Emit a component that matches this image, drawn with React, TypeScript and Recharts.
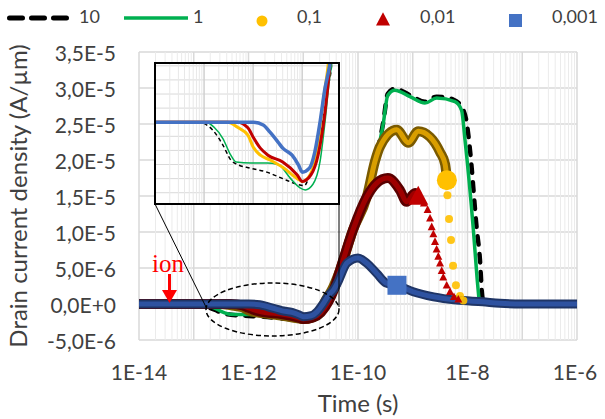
import React from 'react'
import { CartesianGrid, Line, LineChart, ReferenceDot, XAxis, YAxis } from 'recharts'

type Pt = { t: number; y: number }

// time (s) / drain current density (A/µm)
const s10: Pt[] = [
	{ t: 1e-14, y: 0 }, { t: 7.6e-14, y: 0 }, { t: 1.5e-13, y: -0.28e-6 }, { t: 2.4e-13, y: -0.8e-6 },
	{ t: 3.5e-13, y: -1.34e-6 }, { t: 4.8e-13, y: -1.5e-6 }, { t: 8.7e-13, y: -1.63e-6 }, { t: 1.9e-12, y: -1.77e-6 },
	{ t: 4e-12, y: -2.0e-6 }, { t: 7.9e-12, y: -2.2e-6 }, { t: 1.1e-11, y: -2.25e-6 }, { t: 1.4e-11, y: -1.9e-6 },
	{ t: 2e-11, y: -1.15e-6 }, { t: 2.6e-11, y: 0 }, { t: 3.3e-11, y: 1.2e-6 }, { t: 4e-11, y: 2.1e-6 },
	{ t: 4.7e-11, y: 4.7e-6 }, { t: 8.1e-11, y: 10.3e-6 }, { t: 1.45e-10, y: 14.9e-6 }, { t: 2.04e-10, y: 19.6e-6 },
	{ t: 2.9e-10, y: 25.3e-6 }, { t: 3.5e-10, y: 29.2e-6 }, { t: 4.7e-10, y: 29.9e-6 }, { t: 8.9e-10, y: 29e-6 },
	{ t: 1.67e-9, y: 28.1e-6 }, { t: 2.73e-9, y: 28.8e-6 }, { t: 5.5e-9, y: 28.4e-6 }, { t: 8.3e-9, y: 27e-6 },
	{ t: 9.7e-9, y: 25.1e-6 }, { t: 1.11e-8, y: 21.4e-6 }, { t: 1.48e-8, y: 10.3e-6 }, { t: 1.69e-8, y: 6.1e-6 },
	{ t: 1.82e-8, y: 1.9e-6 }, { t: 1.95e-8, y: 0 },
]

const s1: Pt[] = [
	{ t: 1e-14, y: 0 }, { t: 1.1e-13, y: 0 }, { t: 1.6e-13, y: -0.18e-6 }, { t: 2.4e-13, y: -0.57e-6 },
	{ t: 3.5e-13, y: -1.17e-6 }, { t: 4.5e-13, y: -1.41e-6 }, { t: 8.9e-13, y: -1.45e-6 }, { t: 1.9e-12, y: -1.45e-6 },
	{ t: 3.2e-12, y: -1.5e-6 }, { t: 5.8e-12, y: -2.0e-6 }, { t: 9e-12, y: -2.33e-6 }, { t: 1.15e-11, y: -2.4e-6 },
	{ t: 1.65e-11, y: -2.2e-6 }, { t: 2.3e-11, y: -1.4e-6 }, { t: 2.9e-11, y: 0 }, { t: 3.6e-11, y: 1.55e-6 },
	{ t: 4.1e-11, y: 2.3e-6 }, { t: 4.7e-11, y: 4.5e-6 }, { t: 8.1e-11, y: 10.1e-6 }, { t: 1.45e-10, y: 14.7e-6 },
	{ t: 2.04e-10, y: 19.4e-6 }, { t: 2.9e-10, y: 25.1e-6 }, { t: 3.5e-10, y: 29e-6 }, { t: 4.7e-10, y: 29.7e-6 },
	{ t: 8.9e-10, y: 28.8e-6 }, { t: 1.67e-9, y: 27.9e-6 }, { t: 2.73e-9, y: 28.6e-6 }, { t: 5.9e-9, y: 28.1e-6 },
	{ t: 7.8e-9, y: 26.9e-6 }, { t: 9e-9, y: 22.8e-6 }, { t: 1.28e-8, y: 10.3e-6 }, { t: 1.5e-8, y: 3.5e-6 },
	{ t: 1.65e-8, y: 0 },
]

const s01: Pt[] = [
	{ t: 1e-14, y: 0 }, { t: 3e-13, y: 0 }, { t: 4.8e-13, y: -0.18e-6 }, { t: 7.8e-13, y: -0.46e-6 },
	{ t: 1e-12, y: -0.88e-6 }, { t: 1.4e-12, y: -1.17e-6 }, { t: 2.2e-12, y: -1.34e-6 }, { t: 4e-12, y: -1.6e-6 },
	{ t: 7.9e-12, y: -2.0e-6 }, { t: 1e-11, y: -2.1e-6 }, { t: 1.4e-11, y: -1.9e-6 }, { t: 2e-11, y: -1.06e-6 },
	{ t: 2.6e-11, y: 0.6e-6 }, { t: 3.3e-11, y: 1.9e-6 }, { t: 4.7e-11, y: 4.7e-6 }, { t: 8.1e-11, y: 10.3e-6 },
	{ t: 1.45e-10, y: 14.9e-6 }, { t: 2.04e-10, y: 19.8e-6 }, { t: 2.5e-10, y: 21.8e-6 }, { t: 5.1e-10, y: 24.2e-6 },
	{ t: 8.3e-10, y: 22.4e-6 }, { t: 1.26e-9, y: 24e-6 }, { t: 2.07e-9, y: 23.2e-6 }, { t: 3.15e-9, y: 21.1e-6 },
	{ t: 3.9e-9, y: 19.4e-6 }, { t: 4.15e-9, y: 17.8e-6 },
]
const s01Tail: Pt[] = [
	{ t: 4.3e-9, y: 15.1e-6 }, { t: 4.6e-9, y: 11.8e-6 }, { t: 5e-9, y: 8.9e-6 }, { t: 5.45e-9, y: 5.3e-6 },
	{ t: 6.15e-9, y: 2.6e-6 }, { t: 7.3e-9, y: 1.1e-6 }, { t: 8.4e-9, y: 0.5e-6 },
]
const s01Big: Pt = { t: 4.2e-9, y: 17.2e-6 }

const s001: Pt[] = [
	{ t: 1e-14, y: 0 }, { t: 4.8e-13, y: 0 }, { t: 7.8e-13, y: -0.2e-6 }, { t: 1e-12, y: -0.53e-6 },
	{ t: 1.4e-12, y: -0.92e-6 }, { t: 2e-12, y: -1.17e-6 }, { t: 4e-12, y: -1.41e-6 }, { t: 7.9e-12, y: -1.87e-6 },
	{ t: 1e-11, y: -2.1e-6 }, { t: 1.5e-11, y: -1.87e-6 }, { t: 2.1e-11, y: -1.17e-6 }, { t: 2.9e-11, y: 0.35e-6 },
	{ t: 3.6e-11, y: 1.9e-6 }, { t: 4.7e-11, y: 4.7e-6 }, { t: 8.1e-11, y: 10.3e-6 }, { t: 1.45e-10, y: 14.9e-6 },
	{ t: 2.2e-10, y: 16.8e-6 }, { t: 3.5e-10, y: 17.5e-6 }, { t: 5.85e-10, y: 15.8e-6 }, { t: 7.7e-10, y: 14.2e-6 },
	{ t: 1.1e-9, y: 15.4e-6 }, { t: 1.22e-9, y: 15.1e-6 },
]
const s001Tail: Pt[] = [
	{ t: 1.6e-9, y: 14.0e-6 }, { t: 1.87e-9, y: 13.1e-6 }, { t: 2.07e-9, y: 11.9e-6 }, { t: 2.22e-9, y: 10.7e-6 },
	{ t: 2.38e-9, y: 9.7e-6 }, { t: 2.55e-9, y: 8.65e-6 }, { t: 2.73e-9, y: 7.6e-6 }, { t: 2.93e-9, y: 6.6e-6 },
	{ t: 3.15e-9, y: 5.65e-6 }, { t: 3.38e-9, y: 4.6e-6 }, { t: 3.61e-9, y: 3.7e-6 }, { t: 4.17e-9, y: 2.6e-6 },
	{ t: 4.8e-9, y: 1.7e-6 }, { t: 5.66e-9, y: 1.0e-6 }, { t: 6.8e-9, y: 0.65e-6 },
]
const s001Big: Pt = { t: 1.26e-9, y: 14.9e-6 }

const s0001: Pt[] = [
	{ t: 1e-14, y: 0 }, { t: 1e-12, y: 0 }, { t: 1.6e-12, y: -0.1e-6 }, { t: 2.2e-12, y: -0.35e-6 },
	{ t: 3.2e-12, y: -0.7e-6 }, { t: 4e-12, y: -0.92e-6 }, { t: 6.2e-12, y: -1.17e-6 }, { t: 8.4e-12, y: -1.52e-6 },
	{ t: 1e-11, y: -1.77e-6 }, { t: 1.4e-11, y: -1.63e-6 }, { t: 1.8e-11, y: -1.06e-6 }, { t: 2.3e-11, y: 0 },
	{ t: 2.9e-11, y: 1.2e-6 }, { t: 3.6e-11, y: 2.0e-6 }, { t: 4.2e-11, y: 2.9e-6 }, { t: 6.3e-11, y: 5.7e-6 },
	{ t: 1e-10, y: 6.4e-6 }, { t: 1.45e-10, y: 5.65e-6 }, { t: 2.2e-10, y: 4.25e-6 }, { t: 3.3e-10, y: 2.9e-6 },
	{ t: 5.15e-10, y: 2.6e-6 }, { t: 1.02e-9, y: 1.7e-6 }, { t: 2.4e-9, y: 1.0e-6 }, { t: 6.3e-9, y: 0.55e-6 },
	{ t: 1.9e-8, y: 0.3e-6 }, { t: 3.9e-8, y: 0.1e-6 }, { t: 1e-7, y: 0 }, { t: 1e-6, y: 0 },
]
const s0001Big: Pt = { t: 5.15e-10, y: 2.6e-6 }

const xTicks = [1e-14, 1e-12, 1e-10, 1e-8, 1e-6]
const yTicks = [-5e-6, 0, 5e-6, 1e-5, 1.5e-5, 2e-5, 2.5e-5, 3e-5, 3.5e-5]
const insetYTicks = [-2.5e-6, -2e-6, -1.5e-6, -1e-6, -5e-7, 0, 5e-7, 1e-6, 1.5e-6, 2e-6]

const legendNames = ['10', '1', '0,1', '0,01', '0,001']

const FONT = 'Lato, "Open Sans", sans-serif'
const TEXT = '#404040'

const decades = (lo: number, hi: number) => {
	const out: number[] = []
	for (let e = lo; e <= hi; e++) out.push(10 ** e)
	return out
}
const minors = (lo: number, hi: number) => {
	const out: number[] = []
	for (let e = lo; e < hi; e++) for (let k = 2; k <= 9; k++) out.push(k * 10 ** e)
	return out
}

// vertical grid lines placed through the axis scale
const xGrid = (vals: number[], lo: number, hi: number) => ({ xAxis, offset }: any) =>
	vals.map((v) => {
		const px = typeof xAxis?.scale === 'function' ? xAxis.scale(v) : NaN
		return Number.isFinite(px) ? px : offset.left + (offset.width * (Math.log10(v) - lo)) / (hi - lo)
	})
const yGrid = (vals: number[], lo: number, hi: number) => ({ yAxis, offset }: any) =>
	vals.map((v) => {
		const px = typeof yAxis?.scale === 'function' ? yAxis.scale(v) : NaN
		return Number.isFinite(px) ? px : offset.top + (offset.height * (hi - v)) / (hi - lo)
	})

const fmtY = (v: number) => {
	if (v === 0) return '0,0E+0'
	const e = Math.floor(Math.log10(Math.abs(v)) + 1e-9)
	const m = (v / 10 ** e).toFixed(1).replace('.', ',')
	return `${m}E${e >= 0 ? '+' : ''}${e}`
}
const fmtX = (v: number) => `1E${Math.round(Math.log10(v))}`

const triangle = (cx: number, cy: number, w: number, key?: string) => (
	<polygon
		key={key}
		points={`${cx},${cy - w * 0.55} ${cx + w / 2},${cy + w * 0.4} ${cx - w / 2},${cy + w * 0.4}`}
		fill="#C00000"
	/>
)

const Inset = () => (
	<LineChart width={184} height={141} margin={{ top: 0, right: 0, bottom: 0, left: 0 }}>
		<CartesianGrid vertical={false} stroke="#D9D9D9" horizontalCoordinatesGenerator={yGrid(insetYTicks, -2.9e-6, 2.1e-6)} />
		<CartesianGrid horizontal={false} stroke="#E8E8E8" verticalCoordinatesGenerator={xGrid(minors(-14, -11), -14, -10.25)} />
		<CartesianGrid horizontal={false} stroke="#D0D0D0" strokeWidth={1.5} verticalCoordinatesGenerator={xGrid(decades(-13, -11), -14, -10.25)} />
		<XAxis hide dataKey="t" type="number" scale="log" domain={[1e-14, 5.6e-11]} allowDataOverflow />
		<YAxis hide type="number" domain={[-2.9e-6, 2.1e-6]} allowDataOverflow />
		<Line data={s10} dataKey="y" type="monotone" stroke="#000" strokeWidth={1.5} strokeDasharray="4 3" dot={false} activeDot={false} isAnimationActive={false} />
		<Line data={s1} dataKey="y" type="monotone" stroke="#00B050" strokeWidth={1.5} dot={false} activeDot={false} isAnimationActive={false} />
		<Line data={s01} dataKey="y" type="monotone" stroke="#FFC000" strokeWidth={3} dot={false} activeDot={false} isAnimationActive={false} />
		<Line data={s001} dataKey="y" type="monotone" stroke="#C00000" strokeWidth={3} dot={false} activeDot={false} isAnimationActive={false} />
		<Line data={s0001} dataKey="y" type="monotone" stroke="#4472C4" strokeWidth={3.5} dot={false} activeDot={false} isAnimationActive={false} />
	</LineChart>
)

const Legend = () => {
	const textX = [79, 193, 297, 420, 552]
	return (
		<g>
			<line x1={9.5} y1={18} x2={66.5} y2={18} stroke="#000" strokeWidth={5} strokeDasharray="13 9" strokeLinecap="round" />
			<line x1={124} y1={18} x2={188} y2={18} stroke="#00B050" strokeWidth={3.5} />
			<circle cx={262} cy={21} r={5.5} fill="#FFC000" />
			{triangle(383, 20, 14)}
			<rect x={509} y={14} width={13} height={13} fill="#4472C4" />
			{legendNames.map((n, i) => (
				<text key={n} x={textX[i]} y={22.5} fontSize={18} fontFamily={FONT} fill={TEXT}>
					{n}
				</text>
			))}
		</g>
	)
}

export default function App() {
	return (
		<div style={{ position: 'absolute', left: 0, top: 0, width: 605, height: 419, background: '#fff', fontFamily: FONT }}>
			<LineChart width={605} height={419} margin={{ top: 52, right: 28, bottom: 0, left: 0 }}>
				<CartesianGrid vertical={false} stroke="#D9D9D9" strokeWidth={1.5} />
				<CartesianGrid horizontal={false} stroke="#EBEBEB" verticalCoordinatesGenerator={xGrid(minors(-14, -6), -14, -6)} />
				<CartesianGrid horizontal={false} stroke="#D9D9D9" strokeWidth={1.5} verticalCoordinatesGenerator={xGrid(decades(-14, -6), -14, -6)} />
				<XAxis
					dataKey="t"
					type="number"
					scale="log"
					domain={[1e-14, 1e-6]}
					ticks={xTicks}
					allowDataOverflow
					axisLine={false}
					tickLine={false}
					tickSize={0}
					tickMargin={0}
					height={79}
					tick={(p: any) => (
						<text x={p.x} y={p.y + 40} textAnchor="middle" fontSize={21} fontFamily={FONT} fill={TEXT}>
							{fmtX(p.payload.value)}
						</text>
					)}
					label={{
						content: ({ viewBox }: any) => (
							<text x={viewBox.x + viewBox.width / 2} y={viewBox.y + 72} textAnchor="middle" fontSize={24} fontFamily={FONT} fill={TEXT}>
								Time (s)
							</text>
						),
					}}
				/>
				<YAxis
					type="number"
					domain={[-5e-6, 3.5e-5]}
					ticks={yTicks}
					width={139}
					axisLine={false}
					tickLine={false}
					tickSize={0}
					tickMargin={23}
					tick={(p: any) => (
						<text x={p.x} y={p.y + 9} textAnchor="end" fontSize={21} fontFamily={FONT} fill={TEXT}>
							{fmtY(p.payload.value)}
						</text>
					)}
					label={{
						content: ({ viewBox }: any) => {
							const x = viewBox.x + 27
							const y = viewBox.y + viewBox.height / 2
							return (
								<text x={x} y={y} transform={`rotate(-90 ${x} ${y})`} textAnchor="middle" fontSize={24} fontFamily={FONT} fill={TEXT}>
									Drain current density (A/µm)
								</text>
							)
						},
					}}
				/>
				<Line data={s10} dataKey="y" type="monotone" stroke="#000" strokeWidth={4.5} strokeDasharray="8.5 9.5" strokeLinecap="round" dot={false} activeDot={false} isAnimationActive={false} />
				<Line data={s1} dataKey="y" type="monotone" stroke="#00B050" strokeWidth={3.5} dot={false} activeDot={false} isAnimationActive={false} />

				<Line data={s01} dataKey="y" type="monotone" stroke="#7A5A00" strokeWidth={10} dot={false} activeDot={false} isAnimationActive={false} />
				<Line data={s01} dataKey="y" type="monotone" stroke="#D99E00" strokeWidth={5} dot={false} activeDot={false} isAnimationActive={false} />
				<Line data={s01Tail} dataKey="y" stroke="none" dot={{ r: 4, fill: '#FFC000', fillOpacity: 0.9, stroke: 'none' }} activeDot={false} isAnimationActive={false} />

				<Line data={s001} dataKey="y" type="monotone" stroke="#5A0000" strokeWidth={10} dot={false} activeDot={false} isAnimationActive={false} />
				<Line data={s001} dataKey="y" type="monotone" stroke="#9E0000" strokeWidth={5} dot={false} activeDot={false} isAnimationActive={false} />
				<Line
					data={s001Tail}
					dataKey="y"
					stroke="none"
					dot={(p: any) => triangle(p.cx, p.cy, 8, `rt-${p.index}`)}
					activeDot={false}
					isAnimationActive={false}
				/>

				<Line data={s0001} dataKey="y" type="monotone" stroke="#1F3566" strokeWidth={9} dot={false} activeDot={false} isAnimationActive={false} />
				<Line data={s0001} dataKey="y" type="monotone" stroke="#2E52A0" strokeWidth={5} dot={false} activeDot={false} isAnimationActive={false} />

				<ReferenceDot x={s01Big.t} y={s01Big.y} r={10} fill="#FFC000" stroke="none" />
				<ReferenceDot x={s001Big.t} y={s001Big.y} r={10} shape={(p: any) => triangle(p.cx, p.cy, 20)} />
				<ReferenceDot
					x={s0001Big.t}
					y={s0001Big.y}
					r={10}
					shape={(p: any) => <rect x={p.cx - 9.5} y={p.cy - 9.5} width={19} height={19} fill="#4472C4" />}
				/>
			</LineChart>

			<div style={{ position: 'absolute', left: 155, top: 63, width: 184, height: 141, background: '#fff' }}>
				<Inset />
			</div>

			<svg width={605} height={419} style={{ position: 'absolute', left: 0, top: 0, pointerEvents: 'none' }}>
				<rect x={155} y={63} width={184} height={141} fill="none" stroke="#000" strokeWidth={2} />
				<line x1={155} y1={204} x2={206} y2={307} stroke="#000" strokeWidth={1} />
				<line x1={339} y1={204} x2={339} y2={307} stroke="#000" strokeWidth={1} />
				<ellipse cx={272.5} cy={309.5} rx={66.5} ry={26.5} fill="none" stroke="#000" strokeWidth={1.5} strokeDasharray="5 3" />
				<text x={152} y={272} fontSize={25} fontFamily='"Liberation Serif", serif' fill="#FF0000">
					ion
				</text>
				<line x1={169.5} y1={274} x2={169.5} y2={291} stroke="#FF0000" strokeWidth={3} />
				<polygon points="162,290 177,290 169.5,303" fill="#FF0000" />
				<Legend />
			</svg>
		</div>
	)
}
